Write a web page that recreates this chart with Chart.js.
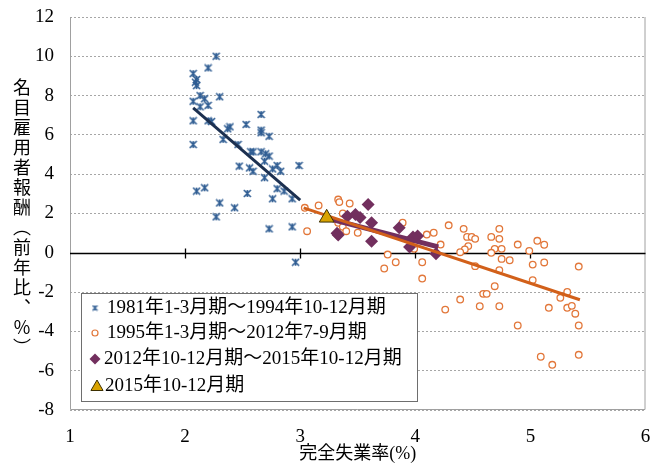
<!DOCTYPE html>
<html>
<head>
<meta charset="utf-8">
<script src="https://cdn.jsdelivr.net/npm/chart.js@4.4.0/dist/chart.umd.min.js"></script>
<style>
  html, body { margin: 0; padding: 0; background: #fff; }
  #wrap { position: relative; width: 655px; height: 463px; }
  #yTitle {
    position: absolute; left: 13px; top: 78px;
    writing-mode: vertical-rl;
    font-family: 'Noto Sans CJK JP', sans-serif;
    font-size: 18px; letter-spacing: 2px; line-height: 1; color: #000;
  }
</style>
</head>
<body>
<div id="wrap">
  <canvas id="chart" width="655" height="463"></canvas>
  <div id="yTitle">名目雇用者報酬（前年比、％）</div>
</div>
<script>
// 完全失業率(%) , 名目雇用者報酬(前年比、%)
const period1981 = [
  [2.27,10.0],[2.20,9.41],[2.07,9.12],[2.10,8.82],[2.09,8.68],[2.10,8.51],[2.13,8.0],
  [2.30,7.94],[2.07,7.71],[2.17,7.84],[2.20,7.50],[2.13,7.43],[2.07,6.72],[2.20,6.72],
  [2.23,6.68],[2.39,6.41],[2.37,6.31],[2.53,6.53],[2.33,5.77],[2.46,5.51],[2.07,5.51],
  [2.47,4.41],[2.10,3.14],[2.17,3.31],[2.54,3.02],[2.30,2.54],[2.43,2.29],[2.27,1.83],
  [2.66,7.04],[2.66,6.24],[2.66,6.11],[2.73,5.93],[2.57,5.14],[2.59,5.14],[2.66,5.14],
  [2.70,5.04],[2.73,4.92],[2.69,4.66],[2.56,4.32],[2.59,4.15],[2.76,4.27],[2.80,4.44],
  [2.83,4.15],[2.99,4.44],[2.69,3.82],[2.80,3.26],[2.86,3.14],[2.76,2.75],[2.93,2.75],
  [2.73,1.22],[2.93,1.32],[2.96,-0.48]
];
const period1995 = [
  [3.04,2.29],[3.16,2.41],[3.33,2.71],[3.34,2.58],[3.43,2.51],[3.06,1.10],[3.37,2.0],
  [3.33,1.53],[3.37,1.32],[3.40,1.10],[3.33,0.93],[3.50,1.02],[3.89,1.53],[3.76,-0.09],
  [3.83,-0.48],[3.73,-0.80],[3.99,0.20],
  [4.29,1.40],[4.42,1.22],[4.10,0.93],[4.16,1.02],[4.45,0.81],[4.49,0.81],[4.52,0.71],
  [4.22,0.42],[4.46,0.34],[4.43,0.17],[4.39,0.03],[4.73,1.22],[4.66,0.81],[4.73,0.71],
  [4.89,0.42],[4.69,0.20],[4.75,0.20],[4.66,0.0],[4.75,-0.31],[4.82,-0.38],[4.06,-0.48],
  [4.52,-0.68],[4.73,-0.88],[4.06,-1.31],[4.69,-1.70],[4.59,-2.09],[4.62,-2.09],[4.39,-2.38],
  [4.26,-2.89],[4.56,-2.72],[4.73,-2.72],[4.89,-3.70],
  [5.06,0.61],[5.12,0.41],[4.99,0.10],[5.02,-0.60],[5.12,-0.49],[5.42,-0.70],[5.02,-1.39],
  [5.32,-1.99],[5.26,-2.29],[5.16,-2.80],[5.32,-2.80],[5.36,-2.70],[5.39,-3.10],[5.42,-3.70],
  [5.09,-5.29],[5.19,-5.70],[5.42,-5.19]
];
const period2012 = [
  [3.41,1.86],[3.48,1.95],[3.59,2.46],[3.62,1.53],[3.33,0.90],[3.62,0.59],[3.86,1.27],
  [4.02,0.85],[3.95,0.30],[4.18,-0.05],[3.52,1.80],[3.98,0.80],[3.32,1.0]
];
const latest = [[3.23,1.78]];
// 近似直線 (端点)
const fit1981 = [[2.07,7.38],[3.0,2.68]];
const fit1995 = [[3.03,2.29],[5.43,-2.39]];
const fit2012 = [[3.22,1.78],[4.2,0.3]];

const legendLabels = [
  '1981年1-3月期～1994年10-12月期',
  '1995年1-3月期～2012年7-9月期',
  '2012年10-12月期～2015年10-12月期',
  '2015年10-12月期'
];

const pts = arr => arr.map(p => ({x: p[0], y: p[1]}));

const BLUE = '#2E5C92', ORANGE = '#E2773A', ORANGE_LINE = '#D2601A';
const PURPLE = '#722F5E', GOLD = '#D9A300', NAVY = '#1C3050';
const SERIF = "'Liberation Serif', 'Noto Sans CJK JP', serif";

// Excel風の星マーカー (× + 縦線)
function starMarker(size, lw) {
  const c = document.createElement('canvas');
  c.width = size; c.height = size;
  const g = c.getContext('2d');
  const m = size / 2, r = size / 2 - 1;
  g.strokeStyle = BLUE; g.lineWidth = lw;
  g.beginPath();
  g.moveTo(m - r, m - r); g.lineTo(m + r, m + r);
  g.moveTo(m + r, m - r); g.lineTo(m - r, m + r);
  g.moveTo(m, m - r); g.lineTo(m, m + r);
  g.stroke();
  return c;
}
const starBig = starMarker(9, 1.6);
const starSmall = starMarker(7, 1.2);

const zeroAxis = {
  id: 'zeroAxis',
  beforeDatasetsDraw(chart) {
    const {ctx, chartArea: a, scales: {x, y}} = chart;
    const y0 = Math.round(y.getPixelForValue(0)) + 0.5;
    ctx.save();
    ctx.strokeStyle = '#a0a0a0'; ctx.lineWidth = 1;
    ctx.beginPath();
    ctx.moveTo(a.left + 0.5, a.top); ctx.lineTo(a.left + 0.5, a.bottom - 0.5);
    ctx.lineTo(a.right - 0.5, a.bottom - 0.5); ctx.lineTo(a.right - 0.5, a.top);
    ctx.stroke();
    ctx.strokeStyle = '#000'; ctx.lineWidth = 1.3;
    ctx.beginPath();
    ctx.moveTo(a.left, y0); ctx.lineTo(a.right, y0);
    x.ticks.forEach(t => {
      if (t.value > x.min && t.value < x.max) {
        const px = Math.round(x.getPixelForValue(t.value)) + 0.5;
        ctx.moveTo(px, y0 - 5); ctx.lineTo(px, y0 + 5);
      }
    });
    ctx.stroke();
    ctx.restore();
  }
};

const boxLegend = {
  id: 'boxLegend',
  afterDraw(chart) {
    const ctx = chart.ctx;
    const L = 81, T = 293, R = 417, B = 401;
    ctx.save();
    ctx.fillStyle = '#fff';
    ctx.fillRect(L, T, R - L, B - T);
    ctx.strokeStyle = '#6e6e6e'; ctx.lineWidth = 1;
    ctx.strokeRect(L + 0.5, T + 0.5, R - L, B - T);
    const rows = [308, 333, 359, 386];
    const textX = [107, 107, 104, 105];
    ctx.drawImage(starSmall, 95 - 3.5, rows[0] - 3.5);
    ctx.strokeStyle = ORANGE; ctx.fillStyle = '#fff'; ctx.lineWidth = 1.2;
    Chart.helpers.drawPoint(ctx, {pointStyle: 'circle', radius: 3, rotation: 0, borderWidth: 1.2}, 95, rows[1]);
    ctx.fillStyle = PURPLE; ctx.strokeStyle = PURPLE;
    Chart.helpers.drawPoint(ctx, {pointStyle: 'rectRot', radius: 5.5, rotation: 0, borderWidth: 0}, 95, rows[2]);
    ctx.fillStyle = GOLD; ctx.strokeStyle = '#3d3000'; ctx.lineWidth = 1;
    Chart.helpers.drawPoint(ctx, {pointStyle: 'triangle', radius: 7, rotation: 0, borderWidth: 1}, 97, rows[3] + 1);
    ctx.fillStyle = '#000';
    ctx.font = '19px ' + SERIF;
    ctx.textBaseline = 'middle';
    legendLabels.forEach((s, i) => ctx.fillText(s, textX[i], rows[i]));
    ctx.restore();
  }
};

new Chart(document.getElementById('chart'), {
  type: 'scatter',
  data: {
    datasets: [
      { label: legendLabels[3], data: pts(latest), pointStyle: 'triangle', pointRadius: 8.5,
        backgroundColor: GOLD, borderColor: '#3d3000', borderWidth: 1, order: 0 },
      { label: 'fit1995', data: pts(fit1995), showLine: true, pointRadius: 0,
        borderColor: ORANGE_LINE, borderWidth: 3, order: 1 },
      { label: 'fit2012', data: pts(fit2012), showLine: true, pointRadius: 0,
        borderColor: PURPLE, borderWidth: 5, order: 2 },
      { label: legendLabels[2], data: pts(period2012), pointStyle: 'rectRot', pointRadius: 6.5,
        backgroundColor: PURPLE, borderColor: PURPLE, borderWidth: 0, order: 3 },
      { label: 'fit1981', data: pts(fit1981), showLine: true, pointRadius: 0,
        borderColor: NAVY, borderWidth: 3, order: 4 },
      { label: legendLabels[1], data: pts(period1995), pointStyle: 'circle', pointRadius: 3.3,
        backgroundColor: '#fff', borderColor: ORANGE, borderWidth: 1.3, order: 5 },
      { label: legendLabels[0], data: pts(period1981), pointStyle: starBig, pointRadius: 4,
        order: 6 }
    ]
  },
  options: {
    responsive: false,
    animation: false,
    events: [],
    layout: { padding: { top: 17, right: 5, left: 0, bottom: 0 } },
    plugins: { legend: { display: false }, tooltip: { enabled: false } },
    scales: {
      x: {
        type: 'linear', min: 1, max: 6,
        ticks: { stepSize: 1, color: '#000', padding: 8, font: { family: SERIF, size: 19 } },
        grid: { display: false },
        border: { display: false },
        title: { display: true, text: '完全失業率(%)', color: '#000', padding: 0,
          font: { family: SERIF, size: 18, lineHeight: 1 } },
        afterFit: s => { s.height = 53; s.paddingLeft = 0; s.paddingRight = 0; }
      },
      y: {
        min: -8, max: 12,
        ticks: { stepSize: 2, color: '#000', padding: 16, font: { family: SERIF, size: 19 } },
        grid: { drawTicks: false, lineWidth: 1,
          color: c => (c.tick && c.tick.value === 0) ? 'rgba(0,0,0,0)' : '#a6a6a6' },
        border: { display: false, dash: [2, 2] },
        afterFit: s => { s.width = 70; s.paddingTop = 0; s.paddingBottom = 0; }
      }
    }
  },
  plugins: [zeroAxis, boxLegend]
});
</script>
</body>
</html>
